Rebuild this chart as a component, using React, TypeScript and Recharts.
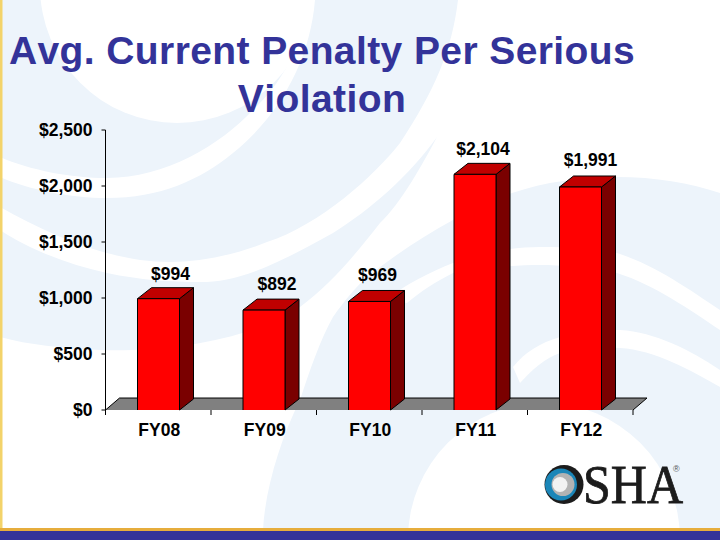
import { BarChart, Bar, XAxis, YAxis, LabelList, ReferenceArea } from "recharts";

const years = ["FY08", "FY09", "FY10", "FY11", "FY12"];
const penalties = [994, 892, 969, 2104, 1991];
const yTicks = [0, 500, 1000, 1500, 2000, 2500];
// labels in the original sit off-centre by hand, these are the nudges
const labelNudgeX = [12, 13, 8, 8, 10];
const labelNudgeY = [-19, -20, -20, -19, -21];

const data = years.map((year, i) => ({ year, penalty: penalties[i] }));

const FONT = "'Liberation Sans', Arial, sans-serif";
const NAVY = "#333399";
const PALE = "#edf4fb";
const DEPTH_X = 14;
const DEPTH_Y = 11;
const BAND = 527.5 / years.length;

const Bar3D = ({ x, y, width, height }: any) => {
  const r = x + width;
  const b = y + height;
  return (
    <g stroke="#000" strokeWidth={1} strokeLinejoin="round">
      <path d={`M${r} ${y}L${r + DEPTH_X} ${y - DEPTH_Y}V${b - DEPTH_Y}L${r} ${b}Z`} fill="#7a0000" />
      <path d={`M${x} ${y}L${x + DEPTH_X} ${y - DEPTH_Y}H${r + DEPTH_X}L${r} ${y}Z`} fill="#c00000" />
      <rect x={x} y={y} width={width} height={height} fill="#ff0000" stroke="none" />
      <path d={`M${x} ${b}V${y}H${r}V${b}`} fill="none" />
    </g>
  );
};

const Floor = ({ x, y, width, height }: any) => (
  <g>
    <path
      d={`M${x} ${y + height}L${x + DEPTH_X} ${y}H${x + width + DEPTH_X}L${x + width} ${y + height}Z`}
      fill="#808080"
    />
    <path
      d={`M${x} ${y + height}L${x + DEPTH_X} ${y}H${x + width + DEPTH_X}L${x + width} ${y + height}`}
      fill="none"
      stroke="#000"
      strokeWidth={1}
    />
  </g>
);

const YearTick = ({ x, y, payload, index }: any) => (
  <g>
    {index === 0 && <line x1={x - BAND / 2} x2={x - BAND / 2} y1={y - 6} y2={y - 1} stroke="#000" />}
    <line x1={x + BAND / 2} x2={x + BAND / 2} y1={y - 6} y2={y - 1} stroke="#000" />
    <text x={x + 1} y={y + 20} textAnchor="middle" fontFamily={FONT} fontWeight={700} fontSize={17.5} fill="#000">
      {payload.value}
    </text>
  </g>
);

const ValueLabel = ({ x, y, width, value, index }: any) => (
  <text
    x={x + width / 2 + labelNudgeX[index]}
    y={y + labelNudgeY[index]}
    textAnchor="middle"
    fontFamily={FONT}
    fontWeight={700}
    fontSize={17.5}
    fill="#000"
  >
    ${value.toLocaleString("en-US")}
  </text>
);

// swooshes behind the chart
const Backdrop = () => (
  <svg width={720} height={540} style={{ position: "absolute", left: 0, top: 0 }}>
    <rect width={720} height={540} fill="#fff" />
    <path d="M0 0H313C300 50 280 85 253 110C220 145 165 178 107 178C70 178 30 170 0 157Z" fill={PALE} />
    <circle cx={177} cy={-14} r={137} fill="#fff" />
    <path d="M0 177C30 190 70 198 107 198C160 198 200 180 233 153C280 115 310 60 315 0H458C452 50 435 90 400 143C375 175 320 225 267 242C235 255 200 262 170 262C110 262 50 235 0 207Z" fill={PALE} />
    <path d="M0 230C30 250 70 265 107 273C140 280 170 282 200 282C235 282 267 270 333 233C370 210 410 175 437 137C425 160 400 205 380 223C355 255 330 285 300 307C250 340 170 352 100 350C60 348 30 345 0 337Z" fill={PALE} />
    <path d="M263 530C265 490 280 440 300 400C310 370 320 340 333 317C345 300 355 288 367 277C395 255 425 235 453 220C475 208 495 200 512 193C545 182 580 177 617 177C655 177 690 183 720 193V530Z" fill={PALE} />
    <path d="M385 300C405 285 430 272 453 263C480 252 515 247 540 247C570 247 595 248 617 253C655 265 690 290 720 310V330C690 310 655 285 617 273C590 267 560 265 540 265C515 265 485 268 453 273C435 282 420 292 407 303Z" fill="#fff" />
    <path d="M513 367C525 352 540 343 560 337C580 331 600 330 620 330C655 332 690 350 720 370V387C690 370 655 350 620 348C600 347 580 348 560 353C545 358 532 370 520 383Z" fill="#fff" />
    <circle cx={544} cy={539} r={136} fill="#fff" />
    <rect x={0} y={0} width={2.5} height={530} fill="#f3d36a" />
    <rect x={0} y={528} width={720} height={3} fill="#e6ad3c" />
    <rect x={0} y={531} width={720} height={9} fill={NAVY} />
  </svg>
);

const Logo = () => (
  <svg width={720} height={540} style={{ position: "absolute", left: 0, top: 0 }}>
    <circle cx={564} cy={484.5} r={19.5} fill="#1c1c1c" />
    <circle cx={561} cy={484.5} r={16} fill="#1b86b8" />
    <circle cx={563} cy={484.5} r={11.5} fill="#b3b3b3" />
    <circle cx={560} cy={484.5} r={7.5} fill="#f2f2f2" />
    <text
      x={583}
      y={502.5}
      fontFamily="'Liberation Serif', serif"
      fontSize={54}
      fill="#1c1c1c"
      stroke="#1c1c1c"
      strokeWidth={0.8}
      textLength={100}
      lengthAdjust="spacingAndGlyphs"
    >
      SHA
    </text>
    <text x={673} y={472} fontFamily={FONT} fontSize={9} fill="#555">
      ®
    </text>
  </svg>
);

export default function App() {
  return (
    <div style={{ position: "absolute", left: 0, top: 0, width: 720, height: 540, overflow: "hidden" }}>
      <Backdrop />
      <div
        style={{
          position: "absolute",
          left: 2,
          top: 27,
          width: 640,
          fontFamily: FONT,
          fontWeight: 700,
          fontSize: 39,
          fontKerning: "none",
          letterSpacing: 0.4,
          lineHeight: "48px",
          color: NAVY,
          textAlign: "center",
          whiteSpace: "nowrap",
        }}
      >
        Avg. Current Penalty Per Serious
        <br />
        Violation
      </div>
      <div style={{ position: "absolute", left: 0, top: 0 }}>
        <BarChart
          width={720}
          height={540}
          data={data}
          barCategoryGap={0}
          margin={{ top: 130, right: 87, bottom: 90, left: 0 }}
        >
          <XAxis dataKey="year" height={40} axisLine={false} tickLine={false} tick={<YearTick />} interval={0} tickSize={6} tickMargin={0} />
          <YAxis
            width={105.5}
            domain={[0, 2500]}
            ticks={yTicks}
            interval={0}
            tickLine={{ stroke: "#000" }}
            axisLine={{ stroke: "#000" }}
            tickSize={4}
            tickMargin={9}
            tick={{ fontFamily: FONT, fontWeight: 700, fontSize: 17.5, fill: "#000" }}
            tickFormatter={(v: number) => `$${v.toLocaleString("en-US")}`}
          />
          <ReferenceArea x1="FY08" x2="FY12" y1={0} y2={107} shape={<Floor />} fill="none" stroke="none" ifOverflow="visible" />
          <Bar dataKey="penalty" barSize={42} shape={<Bar3D />} isAnimationActive={false}>
            <LabelList dataKey="penalty" content={<ValueLabel />} />
          </Bar>
        </BarChart>
      </div>
      <Logo />
    </div>
  );
}
